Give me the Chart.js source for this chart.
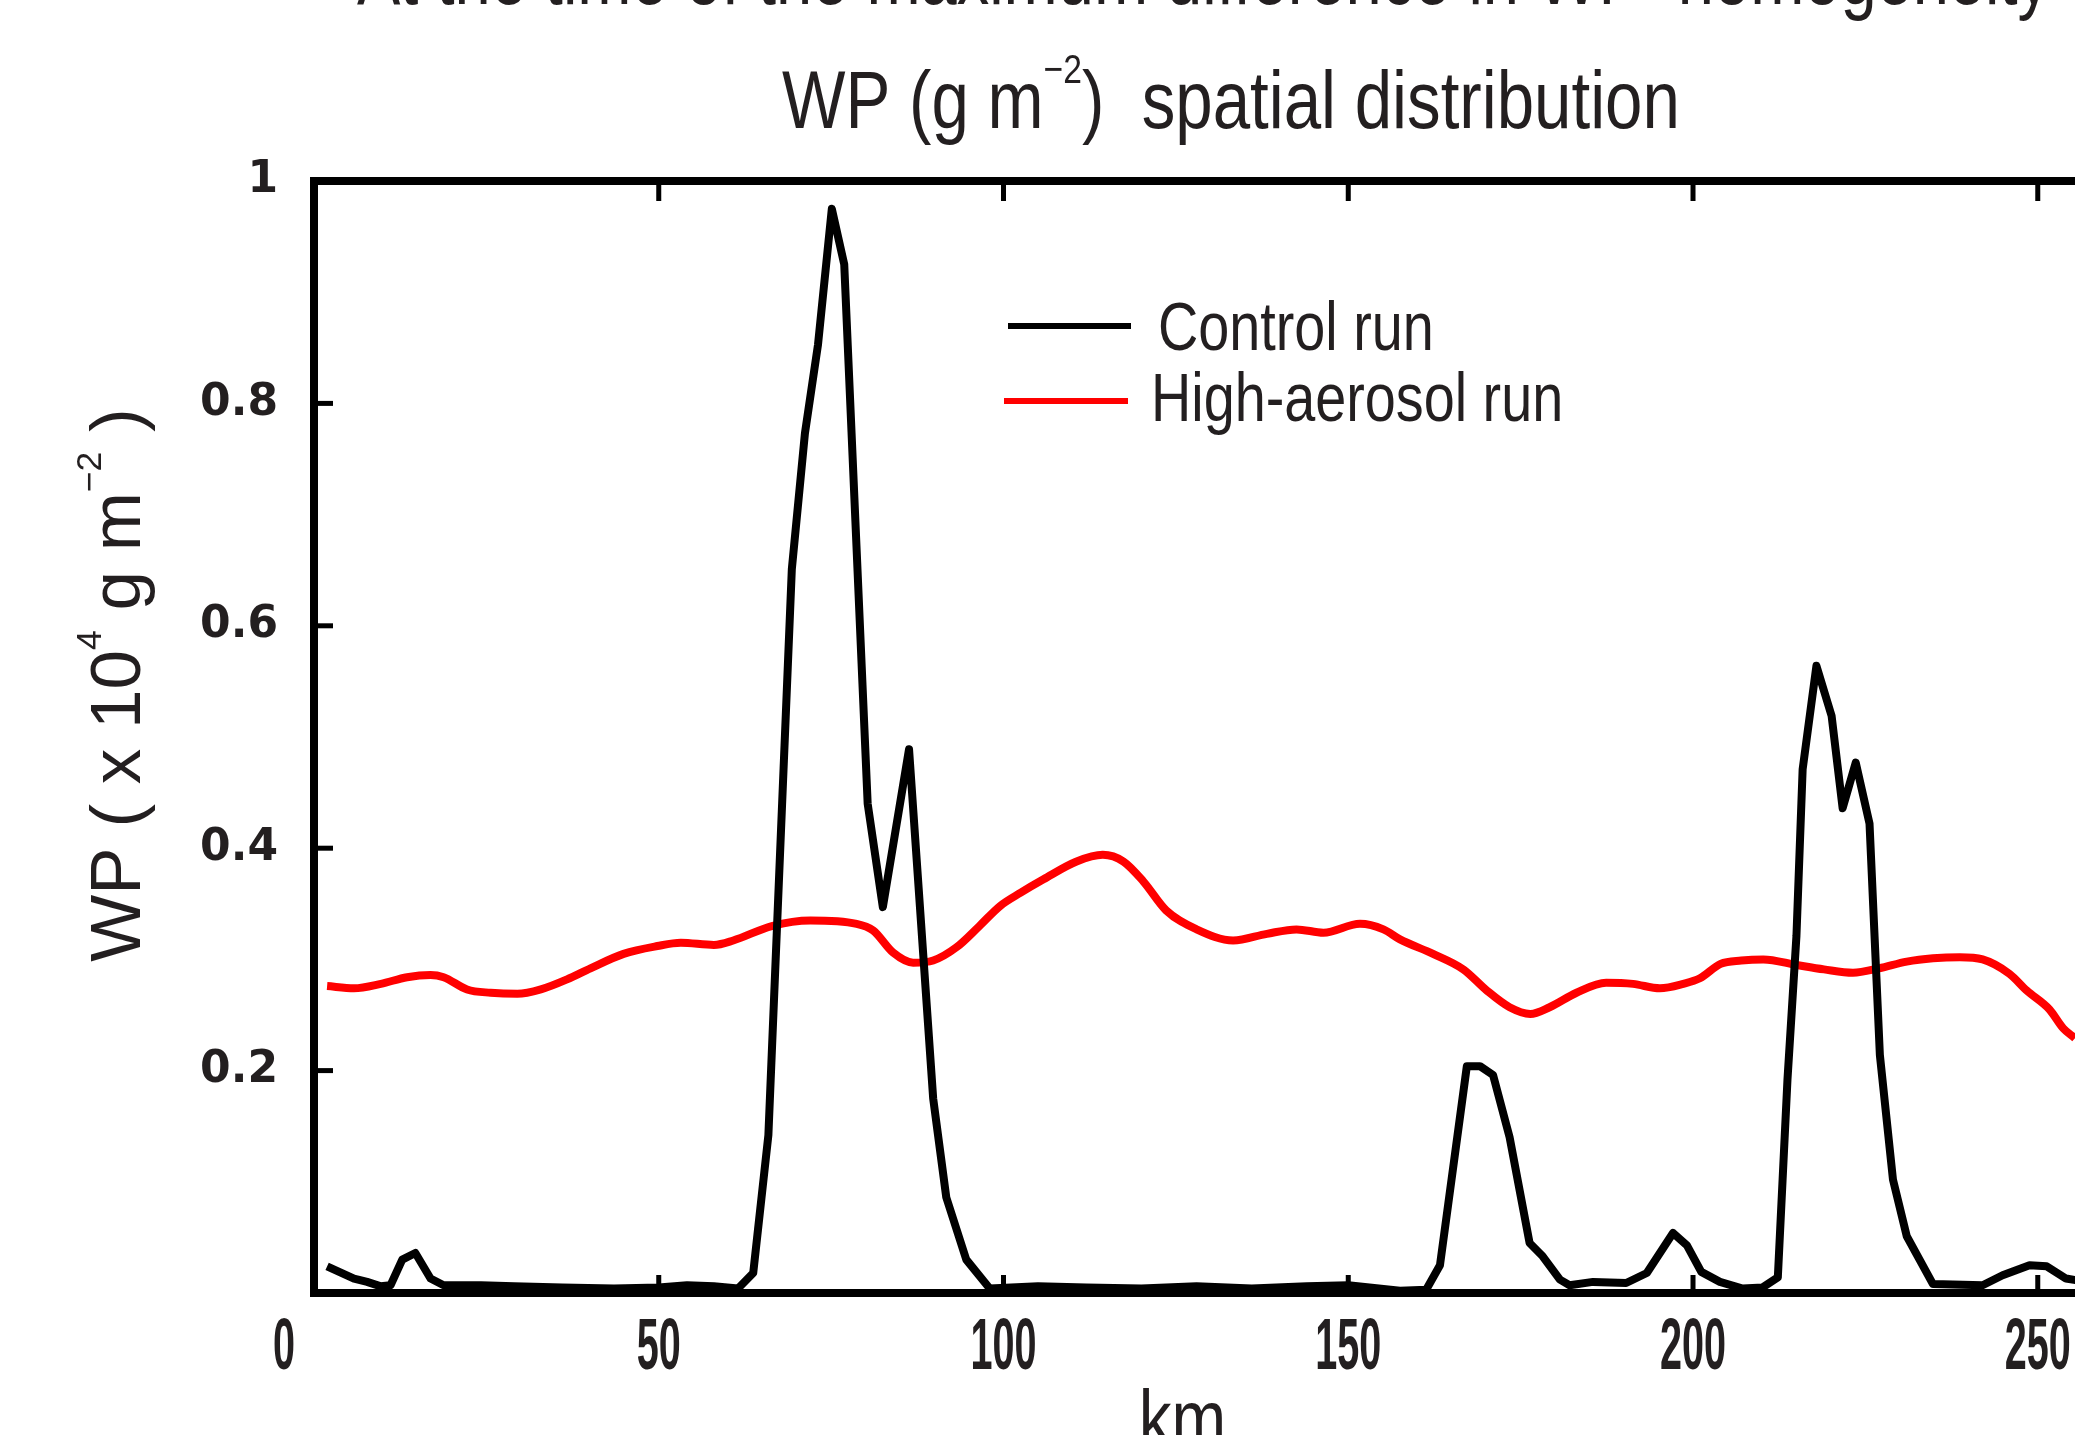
<!DOCTYPE html>
<html>
<head>
<meta charset="utf-8">
<title>WP spatial distribution</title>
<script src="https://cdn.jsdelivr.net/npm/chart.js@4.4.0/dist/chart.umd.min.js"></script>
<style>
  html, body { margin: 0; padding: 0; background: #fff; overflow: hidden; }
  #wrap { position: relative; width: 2075px; height: 1435px; }
</style>
</head>
<body>
<div id="wrap"><canvas id="chart-wp" width="2075" height="1435"></canvas></div>
<script>
"use strict";

// axis ticks
const X_TICKS = [0, 50, 100, 150, 200, 250];
const Y_TICKS = [0.2, 0.4, 0.6, 0.8, 1];
const X_MIN = 0;
const X_MAX = 255.4;

// control run (km, x10^4 g m-2)
const CONTROL_KM = [1.9, 5.8, 7.7, 9.7, 11.1, 12.8, 14.7, 16.9, 18.8, 24.2,
  29, 36, 43.5, 50, 54.1, 58, 61.5, 63.7, 65.9, 69.3,
  71.2, 73.1, 75.1, 76.9, 80.3, 82.5, 86.3, 89.8, 91.7, 94.6,
  98, 105, 112, 120, 128, 136, 144, 150, 157.5, 161.3,
  163.3, 164.5, 167.2, 169.1, 171, 173.4, 176.3, 178.2, 180.7, 182.1,
  185.5, 190.3, 193.3, 197.1, 199.1, 201.2, 203.9, 207.2, 210.1, 212.3,
  213.7, 215, 215.9, 217.9, 220.1, 221.7, 223.6, 225.6, 227.1, 229,
  231, 234.8, 242, 244.9, 248.8, 251.3, 254.1, 256];
const CONTROL_WP = [0.024, 0.013, 0.010, 0.006, 0.007, 0.030, 0.036, 0.013, 0.007, 0.007,
  0.006, 0.005, 0.004, 0.005, 0.007, 0.006, 0.004, 0.018, 0.142, 0.651,
  0.773, 0.853, 0.975, 0.925, 0.440, 0.347, 0.489, 0.175, 0.086, 0.030,
  0.004, 0.006, 0.005, 0.004, 0.006, 0.004, 0.006, 0.007, 0.002, 0.003,
  0.025, 0.080, 0.204, 0.204, 0.196, 0.140, 0.045, 0.033, 0.012, 0.007,
  0.010, 0.009, 0.018, 0.054, 0.043, 0.019, 0.010, 0.004, 0.005, 0.014,
  0.192, 0.321, 0.471, 0.564, 0.519, 0.436, 0.477, 0.422, 0.214, 0.102,
  0.051, 0.008, 0.007, 0.016, 0.025, 0.024, 0.013, 0.011];

// high-aerosol run
const AEROSOL_KM = [1.9, 5.8, 9.7, 13.5, 16.9, 18.8, 22.2, 25.6, 29.5, 32.9,
  36.7, 40.1, 44.9, 49.8, 53.2, 58, 60.8, 66.4, 72, 78.7,
  81.1, 84, 86.9, 89.8, 93.2, 96.5, 99.5, 102.5, 105.8, 110.6,
  114.4, 117.4, 120.3, 123.6, 128, 133.3, 138.2, 142.5, 146.4, 151.7,
  155.1, 157.5, 162.3, 166.7, 170.1, 173.4, 176.4, 179.2, 183.1, 187.4,
  191.3, 195.2, 198.6, 201, 204, 207, 210.2, 215, 219, 223.2,
  227, 231, 234.8, 238.7, 242, 245.9, 248.4, 251.7, 253.7, 255.4, 256.5];
const AEROSOL_WP = [0.276, 0.274, 0.278, 0.284, 0.286, 0.284, 0.273, 0.270, 0.269, 0.273,
  0.282, 0.292, 0.305, 0.312, 0.315, 0.313, 0.317, 0.330, 0.335, 0.332,
  0.326, 0.306, 0.297, 0.299, 0.311, 0.330, 0.348, 0.360, 0.372, 0.388,
  0.394, 0.388, 0.370, 0.344, 0.327, 0.317, 0.323, 0.327, 0.324, 0.332,
  0.327, 0.318, 0.305, 0.291, 0.272, 0.257, 0.251, 0.257, 0.270, 0.279,
  0.278, 0.274, 0.278, 0.283, 0.296, 0.299, 0.300, 0.295, 0.291, 0.288,
  0.292, 0.298, 0.301, 0.302, 0.300, 0.287, 0.272, 0.255, 0.238, 0.229, 0.222];

const SERIES_LABEL = ["Control run", "High-aerosol run"];
const SERIES_COLOR = ["#000000", "#ff0000"];

const INK = "#231f20";
const SANS = '"Liberation Sans", Arial, sans-serif';
const NARROW_X = 0.82; // squeeze factor to imitate a narrow face

function toPoints(xs, ys) {
  return xs.map((x, i) => ({ x, y: ys[i] }));
}

// draws text pieces (some superscript), squeezed horizontally by sx
function drawText(ctx, parts, x, y, opts) {
  const { size, weight = "normal", sx = 1, align = "left" } = opts;
  const supSize = size * 0.5;
  const fontOf = (sup) => `${weight} ${sup ? supSize : size}px ${SANS}`;
  const widths = parts.map(([t, sup]) => {
    ctx.font = fontOf(sup);
    return ctx.measureText(t).width;
  });
  const total = widths.reduce((a, b) => a + b, 0) * sx;
  const start = align === "center" ? x - total / 2 : x;
  ctx.save();
  ctx.translate(start, y);
  ctx.scale(sx, 1);
  ctx.textAlign = "left";
  ctx.textBaseline = "alphabetic";
  let cx = 0;
  parts.forEach(([t, sup], i) => {
    ctx.font = fontOf(sup);
    ctx.fillText(t, cx, sup ? -size * 0.55 : 0);
    cx += widths[i];
  });
  ctx.restore();
}

const framePlugin = {
  id: "frame",
  afterDatasetsDraw(chart) {
    const { ctx, chartArea: a, scales: { x, y } } = chart;
    ctx.save();
    ctx.strokeStyle = "#000";
    ctx.lineWidth = 8;
    ctx.beginPath();
    ctx.moveTo(a.left - 4, a.top);
    ctx.lineTo(a.right, a.top);
    ctx.stroke();

    // inward ticks
    ctx.lineWidth = 5;
    for (const t of x.ticks) {
      if (t.value <= X_MIN) continue;
      const px = x.getPixelForValue(t.value);
      ctx.beginPath();
      ctx.moveTo(px, a.bottom);
      ctx.lineTo(px, a.bottom - 18);
      ctx.moveTo(px, a.top);
      ctx.lineTo(px, a.top + 20);
      ctx.stroke();
    }
    for (const t of y.ticks) {
      if (t.value >= 1) continue;
      const py = y.getPixelForValue(t.value);
      ctx.beginPath();
      ctx.moveTo(a.left, py);
      ctx.lineTo(a.left + 19, py);
      ctx.stroke();
    }
    ctx.restore();
  },
  afterDraw(chart) {
    const { ctx, chartArea: a, scales: { x } } = chart;
    ctx.save();
    ctx.fillStyle = INK;

    // x tick labels, narrow bold digits
    for (const t of x.ticks) {
      let px = x.getPixelForValue(t.value);
      if (t.value === X_MIN) px -= 30;
      drawText(ctx, [[String(t.value), false]], px, a.bottom + 76,
        { size: 72, weight: "bold", sx: 0.55, align: "center" });
    }
    drawText(ctx, [["km", false]], (a.left + a.right) / 2 - 12, 1446,
      { size: 80, sx: NARROW_X, align: "center" });

    // cropped heading line above the title
    ctx.font = `82px ${SANS}`;
    ctx.textAlign = "left";
    ctx.textBaseline = "alphabetic";
    ctx.fillText("At the time of the maximum difference in WP  homogeneity", 357, 4, 1693);

    drawText(ctx, [["WP (g m", false], ["\u22122", true], [")  spatial distribution", false]],
      1231, 128, { size: 82, sx: NARROW_X, align: "center" });

    // y axis title
    ctx.save();
    ctx.translate(140, 685);
    ctx.rotate(-Math.PI / 2);
    drawText(ctx, [["WP ( x 10", false], ["4", true], [" g m", false], ["\u22122", true], [" )", false]],
      0, 0, { size: 71, align: "center" });
    ctx.restore();

    // legend
    const legend = [
      { x1: 1008, x2: 1131, ly: 326, tx: 1158, ty: 350 },
      { x1: 1004, x2: 1128, ly: 401, tx: 1151, ty: 421 },
    ];
    chart.data.datasets.forEach((ds, i) => {
      const p = legend[i];
      ctx.strokeStyle = ds.borderColor;
      ctx.lineWidth = 6;
      ctx.beginPath();
      ctx.moveTo(p.x1, p.ly);
      ctx.lineTo(p.x2, p.ly);
      ctx.stroke();
      ctx.fillStyle = INK;
      drawText(ctx, [[ds.label, false]], p.tx, p.ty, { size: 68, sx: NARROW_X });
    });
    ctx.restore();
  },
};

function renderChart() {
  new Chart(document.getElementById("chart-wp"), {
    type: "line",
    data: {
      datasets: [
        {
          label: SERIES_LABEL[0],
          data: toPoints(CONTROL_KM, CONTROL_WP),
          borderColor: SERIES_COLOR[0],
          borderWidth: 8,
          pointRadius: 0,
          tension: 0,
          borderJoinStyle: "round",
        },
        {
          label: SERIES_LABEL[1],
          data: toPoints(AEROSOL_KM, AEROSOL_WP),
          borderColor: SERIES_COLOR[1],
          borderWidth: 8,
          pointRadius: 0,
          cubicInterpolationMode: "monotone",
          borderJoinStyle: "round",
        },
      ],
    },
    options: {
      responsive: false,
      animation: false,
      events: [],
      layout: { autoPadding: false, padding: { top: 181, left: 0, right: 0, bottom: 0 } },
      plugins: {
        legend: { display: false },
        title: { display: false },
        tooltip: { enabled: false },
      },
      scales: {
        x: {
          type: "linear",
          min: X_MIN,
          max: X_MAX,
          afterBuildTicks: (scale) => { scale.ticks = X_TICKS.map((v) => ({ value: v })); },
          afterFit: (scale) => {
            scale.height = 142;
            scale.paddingLeft = 0;
            scale.paddingRight = 0;
          },
          grid: { display: false, drawTicks: false },
          border: { display: true, color: "#000", width: 8 },
          ticks: { display: false },
        },
        y: {
          min: 0,
          max: 1,
          afterBuildTicks: (scale) => { scale.ticks = Y_TICKS.map((v) => ({ value: v })); },
          afterFit: (scale) => { scale.width = 314; },
          grid: { display: false, drawTicks: false },
          border: { display: true, color: "#000", width: 8 },
          ticks: {
            color: INK,
            padding: 36,
            font: { family: '"DejaVu Sans", sans-serif', size: 44, weight: "bold" },
            callback: (v) => String(v),
          },
        },
      },
    },
    plugins: [framePlugin],
  });
}

document.addEventListener("DOMContentLoaded", renderChart);
</script>
</body>
</html>
